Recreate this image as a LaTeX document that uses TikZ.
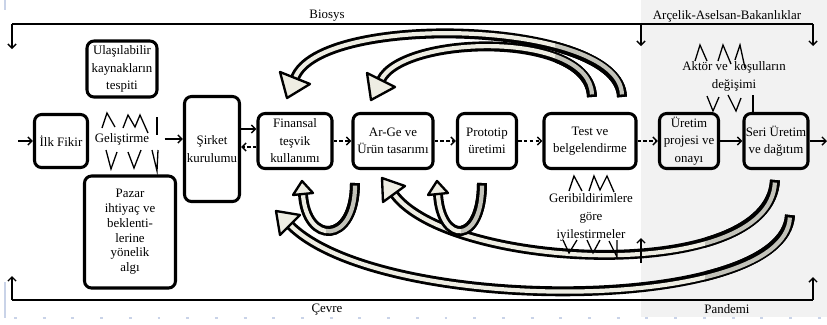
\documentclass[tikz,border=0pt]{standalone}
\usepackage{fontspec}
\setmainfont{Liberation Serif}
\usetikzlibrary{arrows.meta}
\definecolor{bgGray}{HTML}{F2F2F2}
\definecolor{tipLight}{HTML}{EEEDE3}
\definecolor{tailGray}{HTML}{C3C3BA}
\definecolor{artBlue}{HTML}{C9D3E8}
\tikzset{
  bx/.style={draw=black, line width=2.6pt, rounded corners=6pt, inner sep=1pt, align=center, font=\fontsize{11}{15}\selectfont},
  lbl/.style={inner sep=1pt, align=center, font=\fontsize{11}{15.4}\selectfont},
  arr/.style={-{Straight Barb[length=3.5pt,width=7pt]}, line width=1.2pt},
  arrD/.style={arr, dash pattern=on 3pt off 2pt},
  brk/.style={line width=1.3pt},
  zz/.style={line width=1.1pt},
  shaft/.style={draw=black, line width=8.5pt, postaction={draw=#1, line width=3.6pt, shorten <=2.2pt}},
  shaft/.default=tipLight,
  headT/.style={fill=tipLight, draw=black, line width=2pt, line join=round},
}
\begin{document}
\begin{tikzpicture}[x=0.03cm, y=-0.03cm]
\useasboundingbox (0,0) rectangle (827,324);
% shaded part on the right
\fill[bgGray] (641,0) rectangle (827,317);
\draw[artBlue, line width=1.5pt] (5,0) -- (5,10);
\draw[artBlue, line width=1.5pt] (5,282) -- (5,318);
\draw[artBlue, line width=1pt, dash pattern=on 2.5pt off 22pt] (14,318) -- (827,318);

% top and bottom brackets
\coordinate (tl) at (12,24);  \coordinate (tlE) at (12,49);
\coordinate (tm) at (641,24); \coordinate (tmE) at (641,46);
\coordinate (tr) at (813,24); \coordinate (trE) at (813,46);
\coordinate (bl) at (12,300);  \coordinate (blE) at (12,276);
\coordinate (br) at (813,300); \coordinate (brE) at (813,277);
\coordinate (pm) at (641,263); \coordinate (pmE) at (641,238);
\draw[brk] (tl) -- (tr);
\draw[brk] (bl) -- (br);
\foreach \u/\v in {tl/tlE,tm/tmE,tr/trE,bl/blE,br/brE} \draw[arr] (\u) -- (\v);
\node[lbl] (biosys) at (327,16) {Biosys};
\node[lbl] (bakan) at (727,16) {Arçelik-Aselsan-Bakanlıklar};
\node[lbl] (cevre) at (327,310) {Çevre};
\node[lbl] (pand) at (727,309) {Pandemi};

% big curved arrows, lower ones first
\draw[shaft] (790,215) .. controls (785,315) and (380,315) .. (290,225);
\begin{scope}
  \clip (705,170) rectangle (827,300);
  \draw[shaft=tailGray] (790,215) .. controls (785,315) and (380,315) .. (290,225);
\end{scope}
\filldraw[headT] (276,211) -- (300,215) -- (280,235) -- cycle;
\draw[shaft] (775,180) .. controls (770,285) and (450,270) .. (394,194);
\begin{scope}
  \clip (705,170) rectangle (827,300);
  \draw[shaft=tailGray] (775,180) .. controls (770,285) and (450,270) .. (394,194);
\end{scope}
\filldraw[headT] (382,178) -- (405,186) -- (383,202) -- cycle;
\draw[shaft] (355,183) .. controls (355,245) and (306,245) .. (303,194);
\draw[shaft] (482,183) .. controls (482,245) and (441,245) .. (438,194);
\begin{scope}
  \clip (326,175) rectangle (372,250);
  \draw[shaft=tailGray] (355,183) .. controls (355,245) and (306,245) .. (303,194);
\end{scope}
\begin{scope}
  \clip (461,175) rectangle (500,250);
  \draw[shaft=tailGray] (482,183) .. controls (482,245) and (441,245) .. (438,194);
\end{scope}
\filldraw[headT] (302,181) -- (313,193) -- (293,195) -- cycle;
\filldraw[headT] (437,181) -- (448,193) -- (428,195) -- cycle;
\draw[shaft] (622,97) .. controls (620,20) and (320,12) .. (295,78);
\draw[shaft] (592,97) .. controls (590,30) and (403,35) .. (381,80);
\begin{scope}
  \clip (555,0) rectangle (640,110);
  \draw[shaft=tailGray] (622,97) .. controls (620,20) and (320,12) .. (295,78);
  \draw[shaft=tailGray] (592,97) .. controls (590,30) and (403,35) .. (381,80);
\end{scope}
\filldraw[headT] (287,98) -- (310,84) -- (280,72) -- cycle;
\filldraw[headT] (371,100) -- (395,87) -- (367,73) -- cycle;
\draw[arr] (pm) -- (pmE);

% process boxes
\node[bx, minimum width=1.59cm, minimum height=1.59cm] (ilk) at (61,141) {İlk Fikir};
\node[bx, minimum width=2.1cm, minimum height=1.68cm] (ulas) at (122,69) {Ulaşılabilir\\kaynakların\\tespiti};
\node[bx, minimum width=1.65cm, minimum height=3.15cm] (sirket) at (212,149) {Şirket\\kurulumu};
\node[bx, minimum width=2.73cm, minimum height=3.36cm, font=\fontsize{11}{12.6}\selectfont] (pazar) at (130,232) {Pazar\\ihtiyaç ve\\beklenti-\\lerine\\yönelik\\algı};
\node[bx, minimum width=2.22cm, minimum height=1.65cm] (finans) at (295,141) {Finansal\\teşvik\\kullanımı};
\node[bx, minimum width=2.4cm, minimum height=1.65cm] (arge) at (393,141) {Ar-Ge ve\\Ürün tasarımı};
\node[bx, minimum width=1.77cm, minimum height=1.65cm] (proto) at (487,141) {Prototip\\üretimi};
\node[bx, minimum width=2.76cm, minimum height=1.65cm] (test) at (590,141) {Test ve\\belgelendirme};
\node[bx, minimum width=1.77cm, minimum height=1.65cm] (uproj) at (689,141) {Üretim\\projesi ve\\onayı};
\node[bx, minimum width=1.92cm, minimum height=1.65cm] (seri) at (776,141) {Seri Üretim\\ve dağıtım};
\node[lbl, minimum width=2.55cm] (gel) at (122,139) {Geliştirme};
\node[lbl] (aktor) at (734,76) {Aktör ve\ \ koşulların\\değişimi};
\node[lbl] (geri) at (591,217) {Geribildirimlere\\göre\\iyilestirmeler};

% connectors
\coordinate (inL) at (18,141);
\coordinate (outR) at (827,141);
\draw[arr] (inL) -- (ilk);
\draw[arr] (gel.east) -- (gel.east -| sirket.west);
\draw[arr] ([yshift=0.36cm]finans.west -| sirket.east) -- ([yshift=0.36cm]finans.west);
\draw[arrD] ([yshift=-0.18cm]finans.west) -- ([yshift=-0.18cm]finans.west -| sirket.east);
\foreach \u/\v in {finans/arge,arge/proto,proto/test,test/uproj} \draw[arrD] (\u) -- (\v);
\draw[arr] (uproj) -- (seri);
\draw[arr] (seri) -- (outR);

% zigzag strokes
\draw[zz] (102,128) -- (107,113) -- (115,127);
\draw[zz] (123,128) -- (128,115) -- (135,127) -- (140,115) -- (148,133);
\draw[zz] (157,117) -- (157,135);
\draw[zz] (106,150) -- (111,169) -- (117,152);
\draw[zz] (128,152) -- (134,168) -- (141,150);
\draw[zz] (152,150) -- (157,171) -- (158,150);
\draw[zz] (695,61) -- (700,45) -- (707,61);
\draw[zz] (718,61) -- (723,45) -- (731,64);
\draw[zz] (735,60) -- (740,45) -- (745,68);
\draw[zz] (707,96) -- (713,111) -- (719,97);
\draw[zz] (728,95) -- (736,111) -- (741,98);
\draw[zz] (753,95) -- (753,112);
\draw[zz] (569,191) -- (574,176) -- (582,191);
\draw[zz] (589,191) -- (594,176) -- (600,190) -- (607,176) -- (614,192);
\draw[zz] (563,240) -- (569,253) -- (577,240);
\draw[zz] (587,240) -- (593,253) -- (600,240);
\draw[zz] (609,241) -- (617,257) -- (617,240);
\end{tikzpicture}
\end{document}
